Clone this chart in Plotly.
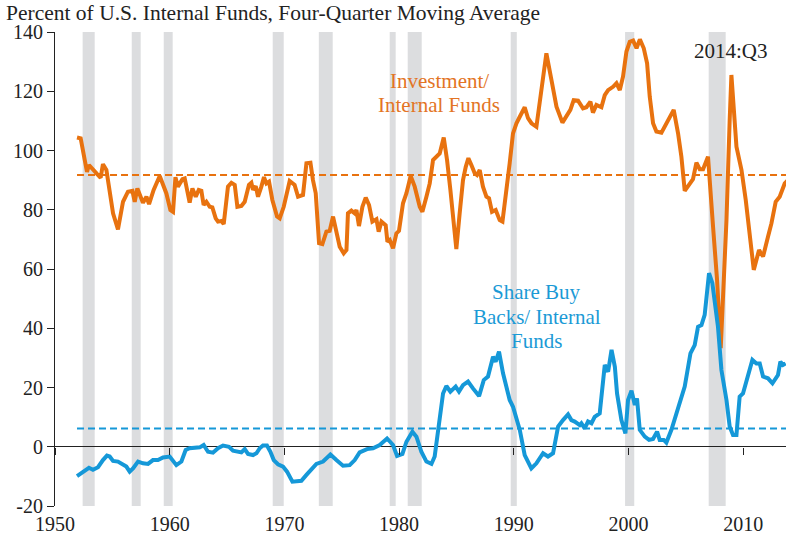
import plotly.graph_objects as go

# ---------------- data ----------------
inv_years = [1951.92, 1952.24, 1952.59, 1952.79, 1952.96, 1953.31, 1953.66, 1953.98, 1954.18, 1954.48,
             1954.77, 1955.06, 1955.49, 1955.93, 1956.36, 1956.75, 1956.95, 1957.18, 1957.67, 1957.97,
             1958.2, 1958.6, 1959.13, 1959.71, 1960.06, 1960.29, 1960.5, 1960.72, 1961.11, 1961.31,
             1961.74, 1961.98, 1962.27, 1962.53, 1962.76, 1962.96, 1963.2, 1963.49, 1963.72, 1964.01,
             1964.21, 1964.51, 1964.71, 1964.88, 1965.08, 1965.38, 1965.67, 1965.9, 1966.25, 1966.54,
             1966.91, 1967.12, 1967.26, 1967.5, 1967.7, 1967.99, 1968.22, 1968.43, 1968.66, 1968.95,
             1969.36, 1969.59, 1969.94, 1970.46, 1970.89, 1971.19, 1971.62, 1971.92, 1972.27, 1972.49,
             1972.73, 1973.02, 1973.31, 1973.66, 1973.95, 1974.24, 1974.47, 1974.82, 1975.17, 1975.41,
             1975.54, 1975.84, 1976.13, 1976.28, 1976.5, 1976.8, 1977.09, 1977.38, 1977.67, 1978.02,
             1978.22, 1978.46, 1978.83, 1978.98, 1979.18, 1979.47, 1979.76, 1979.99, 1980.34, 1980.64,
             1981.01, 1981.36, 1981.8, 1982.03, 1982.38, 1982.67, 1982.96, 1983.25, 1983.54, 1983.89,
             1984.18, 1984.47, 1984.7, 1984.99, 1985.28, 1985.57, 1985.81, 1986.04, 1986.3, 1986.59,
             1986.79, 1987.03, 1987.31, 1987.61, 1987.84, 1988.1, 1988.42, 1988.77, 1989.01, 1989.35,
             1989.64, 1989.93, 1990.23, 1990.52, 1990.95, 1991.24, 1991.54, 1991.97, 1992.41, 1992.84,
             1993.28, 1993.72, 1994.24, 1994.59, 1994.93, 1995.22, 1995.6, 1996.03, 1996.33, 1996.68,
             1996.9, 1997.2, 1997.64, 1997.93, 1998.22, 1998.65, 1998.95, 1999.24, 1999.52, 1999.82,
             2000.11, 2000.4, 2000.7, 2000.99, 2001.33, 2001.62, 2001.85, 2002.14, 2002.43, 2002.87,
             2003.16, 2003.59, 2003.94, 2004.32, 2004.61, 2004.9, 2005.19, 2005.62, 2005.92, 2006.21,
             2006.5, 2006.93, 2007.37, 2007.72, 2008.04, 2008.24, 2008.54, 2008.82, 2008.97, 2009.41,
             2009.85, 2010.22, 2010.57, 2010.92, 2011.38, 2011.73, 2012.16, 2012.46, 2012.83, 2013.18,
             2013.62, 2013.9]
inv_values = [104.4, 104.1, 96.8, 92.8, 95.1, 93.4, 92.1, 90.8, 95.4, 93.4,
              85.6, 78.8, 73.4, 82.7, 86.1, 86.4, 82.7, 87.2, 82.4, 84.4,
              81.9, 86.7, 91.4, 85.5, 79.9, 79.3, 91.0, 87.8, 90.3, 90.6,
              82.4, 87.2, 84.4, 86.7, 86.4, 81.6, 82.7, 81.0, 80.8, 77.1,
              76.0, 76.2, 75.2, 82.2, 87.8, 89.1, 88.4, 81.0, 81.3, 82.7,
              88.4, 89.1, 86.7, 88.0, 84.4, 87.8, 91.0, 88.9, 89.5, 83.3,
              77.7, 77.1, 81.0, 89.7, 88.4, 84.4, 85.0, 95.7, 95.9, 90.0,
              85.6, 68.7, 68.4, 72.6, 72.9, 77.7, 73.2, 67.5, 65.3, 66.4,
              78.8, 79.7, 78.8, 79.9, 74.5, 81.0, 84.1, 81.6, 76.0, 76.8,
              72.6, 76.0, 74.8, 69.2, 69.8, 67.0, 72.0, 72.9, 82.2, 85.6,
              91.4, 87.8, 81.0, 79.3, 84.4, 88.9, 96.8, 97.9, 99.0, 104.4,
              96.8, 86.7, 78.8, 66.7, 78.8, 90.0, 94.5, 97.4, 95.1, 92.3,
              91.7, 93.4, 87.8, 84.4, 83.9, 79.3, 79.9, 76.5, 76.0, 85.6,
              95.7, 105.8, 109.2, 111.4, 114.6, 110.9, 109.2, 108.0, 121.5, 132.8,
              123.8, 114.8, 109.4, 111.4, 113.7, 117.0, 116.8, 114.2, 114.6, 116.5,
              112.8, 115.4, 114.6, 118.7, 120.4, 121.5, 122.7, 120.4, 124.9, 133.4,
              136.7, 137.1, 134.5, 137.5, 134.5, 129.4, 118.2, 109.2, 106.4, 106.0,
              108.0, 110.9, 113.7, 105.8, 97.9, 86.4, 87.8, 90.3, 95.9, 93.7,
              93.7, 97.9, 74.3, 56.3, 33.3, 50.6, 76.5, 110.3, 125.5, 101.3,
              93.4, 83.3, 72.0, 59.7, 66.4, 64.2, 70.9, 75.4, 82.7, 84.4,
              88.9, 90.0]

buy_years = [1951.92, 1952.44, 1952.96, 1953.31, 1953.75, 1954.18, 1954.53, 1954.77, 1955.06, 1955.49,
             1955.93, 1956.22, 1956.51, 1956.8, 1957.24, 1957.67, 1958.11, 1958.54, 1958.98, 1959.42,
             1960.0, 1960.29, 1960.58, 1961.02, 1961.39, 1961.74, 1962.33, 1962.62, 1962.96, 1963.34,
             1963.77, 1964.21, 1964.65, 1965.17, 1965.52, 1965.87, 1966.25, 1966.54, 1966.83, 1967.26,
             1967.56, 1967.85, 1968.13, 1968.48, 1968.78, 1969.07, 1969.44, 1969.88, 1970.23, 1970.7,
             1971.48, 1971.92, 1972.35, 1972.79, 1973.37, 1974.01, 1974.53, 1975.11, 1975.69, 1976.13,
             1976.56, 1977.2, 1977.72, 1978.31, 1978.95, 1979.47, 1979.82, 1980.29, 1980.64, 1981.16,
             1981.51, 1981.94, 1982.38, 1982.82, 1983.1, 1983.48, 1983.83, 1984.12, 1984.47, 1984.93,
             1985.22, 1985.57, 1986.01, 1986.44, 1986.97, 1987.38, 1987.75, 1988.19, 1988.42, 1988.71,
             1989.06, 1989.64, 1989.93, 1990.52, 1990.95, 1991.53, 1991.97, 1992.55, 1992.98, 1993.42,
             1993.86, 1994.29, 1994.73, 1995.02, 1995.31, 1995.75, 1995.89, 1996.18, 1996.47, 1996.77,
             1997.05, 1997.49, 1997.78, 1997.93, 1998.22, 1998.52, 1998.81, 1999.0, 1999.38, 1999.73,
             1999.96, 2000.26, 2000.55, 2000.74, 2000.98, 2001.42, 2001.79, 2002.14, 2002.49, 2002.72,
             2003.07, 2003.3, 2003.74, 2004.32, 2004.9, 2005.4, 2005.77, 2006.06, 2006.36, 2006.64,
             2007.02, 2007.31, 2007.8, 2008.1, 2008.54, 2008.82, 2009.11, 2009.41, 2009.69, 2009.98,
             2010.42, 2010.8, 2011.15, 2011.44, 2011.73, 2012.16, 2012.55, 2013.03, 2013.24, 2013.47,
             2013.7]
buy_values = [-9.9, -8.6, -7.1, -7.8, -6.9, -4.5, -3.0, -3.3, -4.8, -5.0,
              -6.2, -6.7, -8.4, -7.3, -5.0, -5.6, -5.8, -4.5, -4.5, -3.6,
              -3.3, -5.0, -6.2, -5.0, -1.1, -0.5, -0.5, -0.2, 0.6, -1.7,
              -2.0, -0.5, 0.4, 0.0, -1.3, -1.7, -1.9, -0.8, -2.4, -2.8,
              -2.2, -0.5, 0.4, 0.4, -1.7, -4.5, -5.9, -6.7, -8.4, -11.8,
              -11.5, -9.5, -7.8, -5.8, -5.0, -2.6, -4.5, -6.4, -6.2, -4.5,
              -1.9, -0.8, -0.5, 0.6, 2.8, 0.6, -3.1, -2.4, 1.7, 5.1,
              3.4, -1.7, -5.0, -5.8, -3.3, 9.0, 18.0, 20.5, 18.6, 20.3,
              18.6, 20.8, 22.0, 19.7, 17.1, 22.5, 23.7, 30.4, 28.7, 32.1,
              24.8, 15.8, 13.5, 5.7, -2.8, -7.3, -5.6, -2.2, -3.3, -2.2,
              6.8, 9.0, 10.9, 9.0, 8.5, 7.3, 7.9, 6.2, 8.5, 7.9,
              10.1, 11.3, 20.3, 27.6, 25.3, 32.7, 27.0, 18.0, 9.0, 4.5,
              15.8, 18.9, 14.1, 16.3, 5.7, 3.4, 2.3, 2.6, 5.1, 2.3,
              2.3, 1.4, 5.7, 13.5, 20.3, 31.5, 34.3, 40.5, 41.1, 44.5,
              58.6, 55.2, 40.5, 25.9, 15.8, 6.8, 4.0, 4.0, 16.9, 18.0,
              24.2, 29.3, 28.1, 28.1, 23.7, 23.1, 21.4, 24.2, 28.7, 27.6,
              28.1]

inv_mean = 91.7
buy_mean = 6.2
mean_start = 1951.92
mean_end = 2014.75

recession_start = [1952.41, 1956.69, 1959.48, 1968.98, 1973.0, 1979.18, 1980.75, 1989.73, 1999.7, 2006.99]
recession_end = [1953.46, 1957.47, 1960.26, 1969.94, 1974.21, 1979.7, 1981.97, 1990.26, 2000.5, 2008.47]

y_ticks = [-20, 0, 20, 40, 60, 80, 100, 120, 140]
y_tick_text = ["-20", "0", "20", "40", "60", "80", "100", "120", "140"]
x_ticks = [1950, 1960, 1970, 1980, 1990, 2000, 2010]
x_tick_text = ["1950", "1960", "1970", "1980", "1990", "2000", "2010"]

inv_label_lines = ["Investment/", "Internal Funds"]
buy_label_lines = ["Share Buy", "Backs/ Internal", "Funds"]

ORANGE = "#E8720F"
BLUE = "#1598D8"
GRAY = "#DCDDDF"
FONT = "Liberation Serif"
X_RANGE = [1950, 2013.73]

fig = go.Figure()

fig.add_trace(go.Scatter(x=[mean_start, mean_end], y=[inv_mean, inv_mean], mode="lines",
                         line=dict(color=ORANGE, width=2, dash="7px,4px"), xaxis="x2",
                         showlegend=False, hoverinfo="skip"))
fig.add_trace(go.Scatter(x=[mean_start, mean_end], y=[buy_mean, buy_mean], mode="lines",
                         line=dict(color=BLUE, width=2, dash="7px,4px"), xaxis="x2",
                         showlegend=False, hoverinfo="skip"))
fig.add_trace(go.Scatter(x=inv_years, y=inv_values, mode="lines",
                         line=dict(color=ORANGE, width=4), showlegend=False))
fig.add_trace(go.Scatter(x=buy_years, y=buy_values, mode="lines",
                         line=dict(color=BLUE, width=4), showlegend=False))

for s, e in zip(recession_start, recession_end):
    fig.add_shape(type="rect", xref="x", yref="paper", x0=s, x1=e, y0=0, y1=1,
                  fillcolor=GRAY, line=dict(width=0), layer="below")

annotations = []
for txt, yv in zip(inv_label_lines, [123.6, 115.4]):
    annotations.append(dict(text=txt, x=1983.5, y=yv, xref="x", yref="y", showarrow=False,
                            font=dict(family=FONT, size=21, color="#E37424")))
for txt, yv in zip(buy_label_lines, [52.3, 43.9, 35.7]):
    annotations.append(dict(text=txt, x=1992.0, y=yv, xref="x", yref="y", showarrow=False,
                            font=dict(family=FONT, size=21, color="#1B9AD6")))
annotations.append(dict(text="2014:Q3", x=2008.9, y=133.6, xref="x", yref="y", showarrow=False,
                        font=dict(family=FONT, size=21, color="#222222")))
annotations.append(dict(text="Percent of U.S. Internal Funds, Four-Quarter Moving Average", x=0, y=1,
                        xref="paper", yref="paper", xanchor="left", yanchor="middle", xshift=-51, yshift=19.5,
                        showarrow=False, font=dict(family=FONT, size=21.5, color="#222222")))

fig.update_layout(
    width=786, height=537,
    margin=dict(l=55, r=0, t=32, b=31),
    paper_bgcolor="white", plot_bgcolor="white",
    font=dict(family=FONT, size=20, color="#222222"),
    annotations=annotations,
    xaxis=dict(range=X_RANGE, tickvals=x_ticks, ticktext=x_tick_text, showgrid=False,
               zeroline=False, showline=False, ticks="", ticklabelstandoff=4,
               tickfont=dict(family=FONT, size=20, color="#222222")),
    xaxis2=dict(range=X_RANGE, overlaying="x", anchor="free", position=0.125, side="bottom",
                tickvals=x_ticks, showticklabels=False, ticks="outside", ticklen=7,
                tickcolor="#222222", tickwidth=1, showgrid=False, zeroline=False, showline=False),
    yaxis=dict(range=[-20, 140], tickvals=y_ticks, ticktext=y_tick_text, showgrid=False,
               zeroline=True, zerolinecolor="#222222", zerolinewidth=1,
               showline=True, linecolor="#222222", linewidth=1, ticks="outside", ticklen=7,
               tickcolor="#222222", tickfont=dict(family=FONT, size=20, color="#222222")),
)

fig.write_html("out.html", config={"displayModeBar": False},
               post_script="document.body.style.margin='0';document.body.style.overflow='hidden';")
